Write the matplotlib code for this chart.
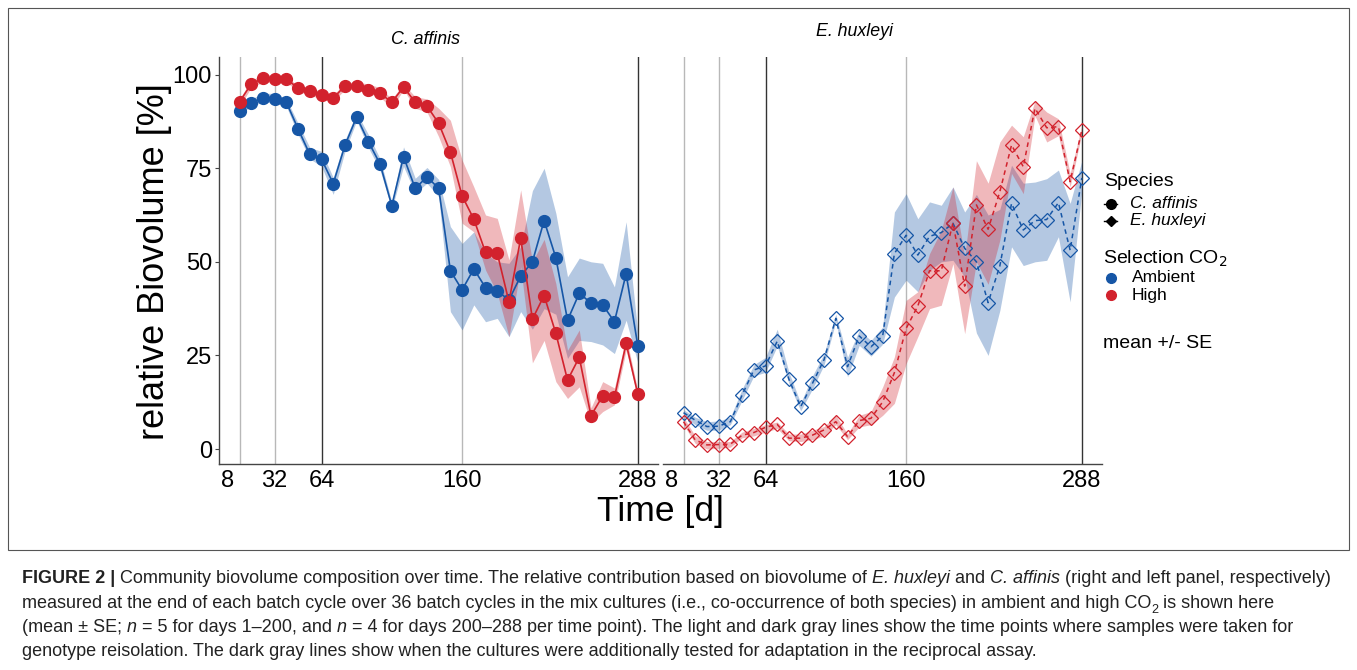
import numpy as np
import matplotlib
matplotlib.use("Agg")
import matplotlib.pyplot as plt
from matplotlib.lines import Line2D
from matplotlib.patches import Rectangle
from matplotlib.font_manager import FontProperties, fontManager

plt.rcParams['font.family'] = ['Liberation Sans', 'DejaVu Sans']

# ---------------- data ----------------
batch = np.arange(1, 36)                      # batch cycle index
tick_pos = [0, 4, 8, 20, 35]
tick_labels = ["8", "32", "64", "160", "288"]
light_lines = [1, 4, 20]
dark_lines = [8, 35]
yticks = [0, 25, 50, 75, 100]

# C. affinis
ca_amb = [90.4, 92.3, 93.8, 93.6, 92.6, 85.5, 78.7, 77.4, 70.9, 81.1, 88.7, 82.1, 76.1, 65.0, 78.1, 69.6, 72.7, 69.6,
          47.6, 42.5, 48.1, 43.1, 42.2, 39.8, 46.2, 50.0, 61.0, 51.1, 34.4, 41.6, 39.0, 38.5, 34.0, 46.8, 27.5]
ca_amb_lo = [89.5, 91.5, 92.7, 92.5, 91.5, 84.0, 77.5, 75.5, 68.0, 79.5, 87.7, 80.5, 74.5, 64.0, 75.5, 68.3, 71.0, 67.4,
             36.7, 31.8, 38.5, 34.0, 34.9, 30.0, 36.7, 32.0, 37.5, 36.0, 24.2, 29.0, 28.7, 27.8, 25.5, 34.4, 23.0]
ca_amb_hi = [91.3, 93.5, 95.0, 95.0, 93.5, 87.0, 80.5, 79.5, 72.5, 82.5, 89.8, 84.0, 77.5, 66.0, 80.7, 72.3, 75.2, 72.0,
             59.4, 54.9, 58.0, 52.3, 50.0, 49.6, 54.0, 69.0, 75.0, 63.0, 46.0, 51.0, 50.0, 49.6, 43.3, 60.7, 31.0]
ca_high = [92.7, 97.5, 99.0, 98.8, 98.8, 96.4, 95.6, 94.5, 93.7, 97.0, 97.0, 96.0, 95.0, 92.6, 96.7, 92.6, 91.6, 87.0,
           79.3, 67.6, 61.4, 52.5, 52.3, 39.3, 56.3, 34.7, 41.0, 30.9, 18.4, 24.5, 8.9, 14.2, 13.8, 28.2, 14.6]
ca_high_lo = [91.5, 96.5, 98.0, 98.0, 98.0, 95.5, 94.5, 93.5, 92.8, 96.0, 96.0, 95.0, 94.0, 91.0, 96.0, 91.0, 90.0, 83.4,
              75.4, 60.3, 58.0, 47.8, 41.6, 30.0, 48.7, 23.0, 29.0, 18.0, 13.5, 16.6, 7.0, 10.0, 11.8, 26.4, 13.6]
ca_high_hi = [93.5, 98.5, 100.0, 99.8, 99.5, 97.0, 96.5, 95.5, 94.5, 97.8, 98.0, 97.5, 96.5, 93.5, 97.5, 94.1, 93.5, 91.0,
              87.8, 77.2, 70.0, 62.5, 61.6, 50.5, 69.2, 50.0, 56.0, 44.2, 26.4, 31.8, 11.0, 18.0, 16.3, 30.0, 15.7]

# E. huxleyi
eh_amb = [9.7, 7.7, 6.0, 6.1, 7.3, 14.4, 21.1, 22.2, 28.8, 18.6, 11.3, 17.5, 23.9, 34.9, 22.0, 30.2, 27.3, 30.2,
          52.2, 57.1, 51.8, 56.8, 57.8, 60.3, 53.6, 50.0, 39.1, 48.9, 65.6, 58.5, 61.0, 61.3, 65.8, 53.1, 72.4]
eh_amb_lo = [8.7, 6.5, 5.0, 5.0, 6.5, 13.0, 19.5, 20.5, 27.5, 17.5, 10.2, 16.0, 22.5, 34.0, 19.3, 27.7, 24.8, 28.0,
             40.6, 45.1, 42.0, 47.7, 50.0, 50.4, 46.0, 31.0, 25.0, 37.0, 54.0, 49.0, 50.0, 50.4, 56.7, 39.3, 69.0]
eh_amb_hi = [10.5, 8.5, 7.3, 7.5, 8.5, 16.0, 22.5, 24.5, 32.0, 20.5, 12.3, 19.5, 25.5, 36.0, 24.5, 31.7, 29.0, 32.6,
             63.3, 68.2, 61.5, 66.0, 65.1, 70.0, 63.3, 68.0, 62.5, 64.0, 75.8, 71.0, 71.3, 72.2, 74.5, 65.6, 77.0]
eh_high = [7.3, 2.4, 1.1, 1.2, 1.3, 3.7, 4.4, 5.8, 6.6, 2.9, 2.9, 3.7, 5.1, 7.3, 3.3, 7.6, 8.2, 12.6,
           20.4, 32.2, 38.2, 47.6, 47.6, 60.4, 43.5, 65.2, 58.7, 68.7, 81.2, 75.4, 91.0, 85.8, 86.1, 71.4, 85.2]
eh_high_lo = [6.5, 1.5, 0.0, 0.2, 0.5, 3.0, 3.5, 4.5, 5.5, 2.2, 2.0, 2.5, 3.5, 6.5, 2.5, 5.9, 6.5, 9.0,
              12.2, 22.8, 30.0, 37.5, 38.4, 49.5, 30.8, 50.0, 44.0, 55.8, 73.6, 68.2, 89.0, 82.0, 83.7, 70.0, 84.3]
eh_high_hi = [8.5, 3.5, 2.0, 2.0, 2.0, 4.5, 5.5, 6.5, 7.2, 4.0, 4.0, 5.0, 6.0, 9.0, 4.0, 9.0, 10.0, 16.6,
              24.6, 39.7, 42.0, 52.2, 58.4, 70.0, 51.3, 77.0, 71.0, 82.0, 86.5, 83.4, 93.0, 90.0, 88.2, 73.6, 86.4]

BLUE = "#1656a6"
RED = "#d2222d"

# ---------------- figure ----------------
W, H = 1357, 670
fig = plt.figure(figsize=(W / 100, H / 100), dpi=100)


def fx(px):
    return px / W


def fy(py):
    return 1 - py / H


ax1 = fig.add_axes([fx(219), fy(464), (658 - 219) / W, (464 - 57) / H])
ax2 = fig.add_axes([fx(663), fy(464), (1102 - 663) / W, (464 - 57) / H])


def draw(ax, series, filled):
    for k in light_lines:
        ax.axvline(k, color="#b8b8b8", lw=1.0, zorder=0)
    for k in dark_lines:
        ax.axvline(k, color="#333333", lw=1.0, zorder=0)
    for vals, lo, hi, col in series:
        ax.fill_between(batch, lo, hi, color=col, alpha=0.32, lw=0, zorder=1)
    for vals, lo, hi, col in series:
        if filled:
            ax.plot(batch, vals, color=col, lw=1.2, marker='o', ms=8.5,
                    mfc=col, mec=col, zorder=3)
        else:
            ax.plot(batch, vals, color=col, lw=1.1, ls=(0, (3, 2.5)), marker='D', ms=7,
                    mfc='none', mec=col, mew=0.9, zorder=3)
    ax.set_xlim(-0.75, 36.72)
    ax.set_ylim(-4.0, 104.7)
    ax.set_xticks(tick_pos)
    ax.set_xticklabels(tick_labels)
    ax.tick_params(axis='x', length=0, pad=4, labelsize=17, labelcolor='black')
    for s in ['top', 'right']:
        ax.spines[s].set_visible(False)
    ax.spines['bottom'].set_color('#444444')
    ax.spines['bottom'].set_linewidth(1.0)
    ax.set_facecolor('none')


draw(ax1, [(ca_amb, ca_amb_lo, ca_amb_hi, BLUE), (ca_high, ca_high_lo, ca_high_hi, RED)], True)
draw(ax2, [(eh_amb, eh_amb_lo, eh_amb_hi, BLUE), (eh_high, eh_high_lo, eh_high_hi, RED)], False)

ax1.set_yticks(yticks)
ax1.tick_params(axis='y', length=3, width=0.8, color='#444444', pad=2, labelsize=17)
ax1.spines['left'].set_color('#444444')
ax1.spines['left'].set_linewidth(1.0)
ax2.spines['left'].set_visible(False)
ax2.set_yticks([])

# titles and axis labels
fig.text(fx(425), fy(40), "C. affinis", style='italic', ha='center', va='center', fontsize=12.8)
fig.text(fx(855), fy(32), "E. huxleyi", style='italic', ha='center', va='center', fontsize=12.8)
fig.text(fx(154), fy(262), "relative Biovolume [%]", rotation=90, ha='center', va='center', fontsize=26)
fig.text(fx(660), fy(512), "Time [d]", ha='center', va='center', fontsize=25.5)

# legend (manual)
tf = fig.transFigure
fig.text(fx(1104), fy(181), "Species", fontsize=14, va='center', ha='left')
fig.add_artist(Line2D([fx(1104), fx(1117)], [fy(204), fy(204)], color='black', lw=1.0, transform=tf))
fig.add_artist(Line2D([fx(1110.5)], [fy(204)], marker='o', ms=7, color='black', transform=tf))
fig.text(fx(1130), fy(204), "C. affinis", fontsize=12.5, style='italic', va='center', ha='left')
fig.add_artist(Line2D([fx(1104), fx(1117)], [fy(220.5), fy(220.5)], color='black', lw=1.0, transform=tf))
fig.add_artist(Line2D([fx(1110.5)], [fy(220.5)], marker='D', ms=5.5, color='black', transform=tf))
fig.text(fx(1130), fy(220.5), "E. huxleyi", fontsize=12.5, style='italic', va='center', ha='left')

fig.text(fx(1103), fy(259), "Selection CO$_2$", fontsize=14, va='center', ha='left')
fig.add_artist(Line2D([fx(1110.5)], [fy(278)], marker='o', ms=7, color=BLUE, transform=tf))
fig.text(fx(1132), fy(278), "Ambient", fontsize=12.5, va='center', ha='left')
fig.add_artist(Line2D([fx(1110.5)], [fy(295)], marker='o', ms=7, color=RED, transform=tf))
fig.text(fx(1132), fy(295), "High", fontsize=12.5, va='center', ha='left')
fig.text(fx(1103), fy(343), "mean +/- SE", fontsize=14, va='center', ha='left')

# frame around the figure panel
fig.add_artist(Rectangle((fx(8), fy(550)), (1349 - 8) / W, (550 - 8) / H, transform=tf,
                         fill=False, ec='#555555', lw=0.8))

# ---------------- caption ----------------
names = {f.name for f in fontManager.ttflist}
cap_family = 'Liberation Sans Narrow' if 'Liberation Sans Narrow' in names else 'Liberation Sans'
renderer = fig.canvas.get_renderer()


def fprop(kind, size):
    if kind == 'b':
        return FontProperties(family=cap_family, size=size, weight='bold')
    if kind == 'i':
        return FontProperties(family=cap_family, size=size, style='italic')
    if kind == 'sub':
        return FontProperties(family=cap_family, size=size * 0.7)
    return FontProperties(family=cap_family, size=size)


def tw(s, fp):
    w1, _, _ = renderer.get_text_width_height_descent("|" + s + "|", fp, ismath=False)
    w2, _, _ = renderer.get_text_width_height_descent("||", fp, ismath=False)
    return w1 - w2


def line_width(segs, size):
    return sum(tw(t, fprop(k, size)) for t, k in segs)


def draw_line(x0, base, segs, size):
    x = x0
    for t, k in segs:
        fp = fprop(k, size)
        yb = base + (size * 0.3 * 100 / 72 if k == 'sub' else 0)
        fig.text(fx(x), fy(yb), t, fontproperties=fp, ha='left', va='baseline', color='#222222')
        x += tw(t, fp)


cap_lines = [
    [("FIGURE 2 |", 'b'), (" Community biovolume composition over time. The relative contribution based on biovolume of ", 'n'),
     ("E. huxleyi", 'i'), (" and ", 'n'), ("C. affinis", 'i'), (" (right and left panel, respectively)", 'n')],
    [("measured at the end of each batch cycle over 36 batch cycles in the mix cultures (i.e., co-occurrence of both species) in ambient and high CO", 'n'),
     ("2", 'sub'), (" is shown here", 'n')],
    [("(mean \u00b1 SE; ", 'n'), ("n", 'i'), (" = 5 for days 1\u2013200, and ", 'n'), ("n", 'i'),
     (" = 4 for days 200\u2013288 per time point). The light and dark gray lines show the time points where samples were taken for", 'n')],
    [("genotype reisolation. The dark gray lines show when the cultures were additionally tested for adaptation in the reciprocal assay.", 'n')],
]

base_size = 10.0
cap_size = base_size * (1337 - 22) / line_width(cap_lines[0], base_size)
baselines = [583, 608, 632, 656]
for segs, b in zip(cap_lines, baselines):
    draw_line(22, b, segs, cap_size)

fig.savefig("out.png", dpi=100)
